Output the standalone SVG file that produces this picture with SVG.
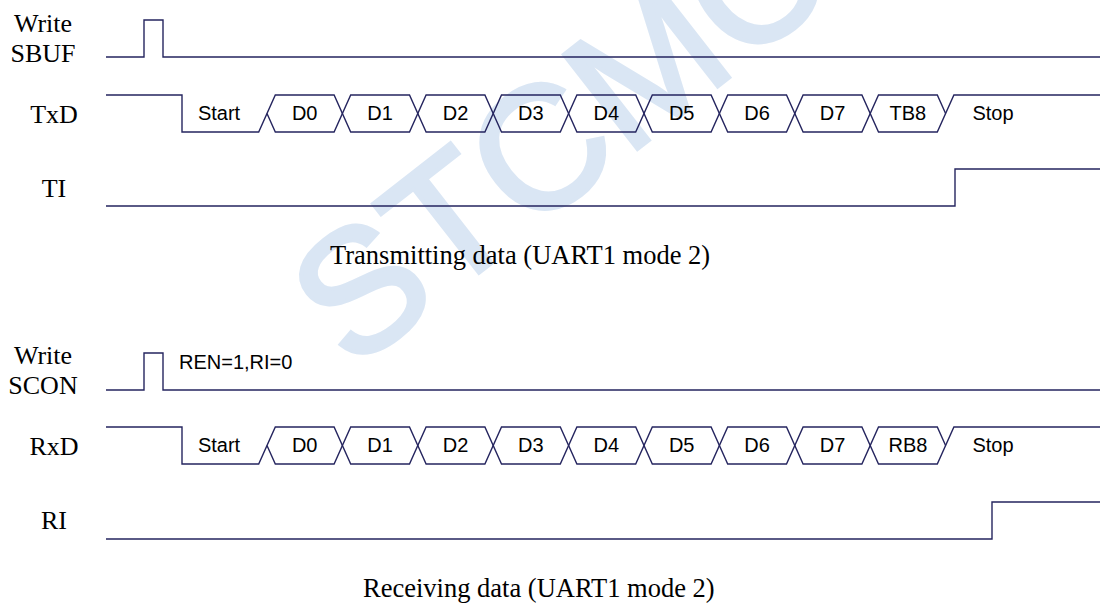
<svg xmlns="http://www.w3.org/2000/svg" width="1100" height="608" viewBox="0 0 1100 608">
<style>
.sig{fill:none;stroke:#25255f;stroke-width:1.4;stroke-linejoin:miter}
.lbl{font-family:"Liberation Serif","Times New Roman",serif;font-size:26px;fill:#000;text-anchor:middle}
.cap{font-family:"Liberation Serif","Times New Roman",serif;font-size:26.5px;fill:#000}
.bit{font-family:"Liberation Sans",Arial,sans-serif;font-size:20px;fill:#000;text-anchor:middle}
.note{font-family:"Liberation Sans",Arial,sans-serif;font-size:20px;fill:#000}
.wm{font-family:"Liberation Sans",Arial,sans-serif;font-size:174px;fill:#dae6f4;stroke:#dae6f4;stroke-width:4}
</style>
<rect width="1100" height="608" fill="#fff"/>
<g id="watermark"><text class="wm" transform="translate(352,372) rotate(-38)">STCMCU</text></g>
<g id="connectors">
<path class="sig" d="M106,57 H144 V20 H163 V57 H1100"/>
<g id="txd-bus">
<path class="sig" d="M106,95 H182 V132 H258.7 L275.3,95 H334.1 L350.7,132 H409.5 L426.1,95 H484.9 L501.5,132 H560.3 L576.9,95 H635.7 L652.3,132 H711.1 L727.7,95 H786.5 L803.1,132 H861.9 L878.5,95 H937.3 L945.6,113.5"/>
<path class="sig" d="M267,113.5 L275.3,132 H334.1 L350.7,95 H409.5 L426.1,132 H484.9 L501.5,95 H560.3 L576.9,132 H635.7 L652.3,95 H711.1 L727.7,132 H786.5 L803.1,95 H861.9 L878.5,132 H937.3 L953.9,95 H1100"/>
</g>
<path class="sig" d="M106,206 H955 V169 H1100"/>
<path class="sig" d="M106,390 H144 V353 H163 V390 H1100"/>
<g id="rxd-bus" transform="translate(0,332)">
<path class="sig" d="M106,95 H182 V132 H258.7 L275.3,95 H334.1 L350.7,132 H409.5 L426.1,95 H484.9 L501.5,132 H560.3 L576.9,95 H635.7 L652.3,132 H711.1 L727.7,95 H786.5 L803.1,132 H861.9 L878.5,95 H937.3 L945.6,113.5"/>
<path class="sig" d="M267,113.5 L275.3,132 H334.1 L350.7,95 H409.5 L426.1,132 H484.9 L501.5,95 H560.3 L576.9,132 H635.7 L652.3,95 H711.1 L727.7,132 H786.5 L803.1,95 H861.9 L878.5,132 H937.3 L953.9,95 H1100"/>
</g>
<path class="sig" d="M106,539 H992 V502 H1100"/>
</g>
<g id="write-sbuf"><text class="lbl" x="43" y="32">Write</text><text class="lbl" x="43" y="62">SBUF</text></g>
<g id="txd-label"><text class="lbl" x="54" y="123">TxD</text></g>
<g id="txd-bits">
<text class="bit" x="219" y="120">Start</text>
<text class="bit" x="304.7" y="120">D0</text>
<text class="bit" x="380.1" y="120">D1</text>
<text class="bit" x="455.5" y="120">D2</text>
<text class="bit" x="530.9" y="120">D3</text>
<text class="bit" x="606.3" y="120">D4</text>
<text class="bit" x="681.7" y="120">D5</text>
<text class="bit" x="757.1" y="120">D6</text>
<text class="bit" x="832.5" y="120">D7</text>
<text class="bit" x="907.9" y="120">TB8</text>
<text class="bit" x="993" y="120">Stop</text>
</g>
<g id="ti-label"><text class="lbl" x="54" y="197">TI</text></g>
<g id="tx-caption"><text class="cap" x="330" y="264">Transmitting data (UART1 mode 2)</text></g>
<g id="write-scon"><text class="lbl" x="43" y="364">Write</text><text class="lbl" x="43" y="394">SCON</text><text class="note" x="179" y="369">REN=1,RI=0</text></g>
<g id="rxd-label"><text class="lbl" x="54" y="455">RxD</text></g>
<g id="rxd-bits">
<text class="bit" x="219" y="452">Start</text>
<text class="bit" x="304.7" y="452">D0</text>
<text class="bit" x="380.1" y="452">D1</text>
<text class="bit" x="455.5" y="452">D2</text>
<text class="bit" x="530.9" y="452">D3</text>
<text class="bit" x="606.3" y="452">D4</text>
<text class="bit" x="681.7" y="452">D5</text>
<text class="bit" x="757.1" y="452">D6</text>
<text class="bit" x="832.5" y="452">D7</text>
<text class="bit" x="907.9" y="452">RB8</text>
<text class="bit" x="993" y="452">Stop</text>
</g>
<g id="ri-label"><text class="lbl" x="54" y="529">RI</text></g>
<g id="rx-caption"><text class="cap" x="363" y="597">Receiving data (UART1 mode 2)</text></g>
</svg>
